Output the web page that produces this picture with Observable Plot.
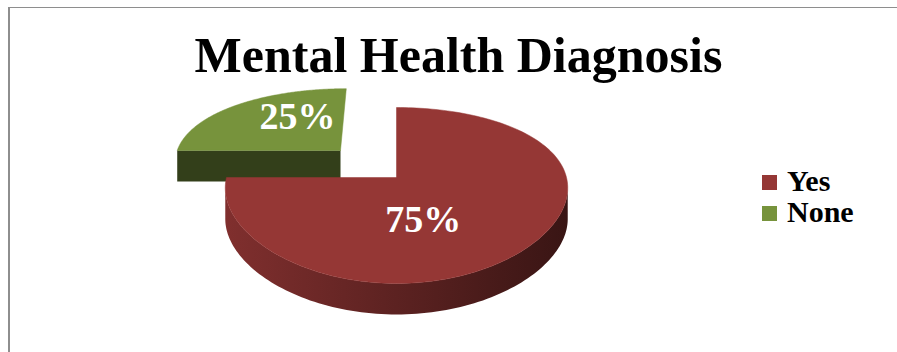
<!DOCTYPE html>
<html>
<head>
<meta charset="utf-8">
<script src="https://cdn.jsdelivr.net/npm/d3@7"></script>
<script src="https://cdn.jsdelivr.net/npm/@observablehq/plot@0.6"></script>
<style>
  html, body { margin: 0; padding: 0; background: #fff; }
  #wrap { position: relative; width: 897px; height: 352px; overflow: hidden;
          font-family: "Liberation Serif", "Times New Roman", serif; }
  #frame { position: absolute; left: 8px; top: 7px; width: 900px; height: 360px;
           border-top: 1px solid #8e8e8e; border-left: 2px solid #8e8e8e; box-sizing: border-box; }
  #chart { position: absolute; left: 0; top: 0; }
  #title { position: absolute; left: 0; width: 917px; top: 30px; text-align: center;
           font-size: 50px; font-weight: bold; line-height: 1; white-space: nowrap; color: #000; }
  .leg { position: absolute; left: 762px; font-size: 30px; font-weight: bold; line-height: 1; white-space: nowrap; }
  .leg .sw { position: absolute; left: 0; width: 15px; height: 15px; }
  .leg .tx { position: absolute; left: 25px; top: 0; }
</style>
</head>
<body>
<div id="wrap">
  <div id="frame"></div>
  <div id="chart"></div>
  <div id="title">Mental Health Diagnosis</div>
  <div id="legend"></div>
</div>
<script>
// ---- data ----
const categories = ["Yes", "None"];
const values = [75, 25];
const colors = ["#953735", "#77933C"];
const labels = ["75%", "25%"];

// ---- 3D pie geometry (perspective view of a tilted disk) ----
const KX = 0.12, KY = 0.2046;      // perspective strength
const DEPTH = 0.368;               // wall height in y units
const EXPLODE = [0, 0.485];        // slice explosion
const LABEL_R = 0.4;
const NUDGE = [[-23, 17], [0, -14]];
const proj = (u, v) => [u / (1 - KX * v), v / (1 - KY * v)];

const arcs = d3.pie().sort(null)(values);
const slices = arcs.map((a, i) => {
  const mid = (a.startAngle + a.endAngle) / 2;
  const cu = EXPLODE[i] * Math.sin(mid), cv = -EXPLODE[i] * Math.cos(mid);
  const n = 180;
  const arc = d3.range(n + 1).map(j => {
    const phi = a.startAngle + (a.endAngle - a.startAngle) * j / n;
    const u = cu + Math.sin(phi), v = cv - Math.cos(phi);
    const [x, y] = proj(u, v);
    return {x, y, phi};
  });
  const [cx, cy] = proj(cu, cv);
  const key = categories[i];
  const top = [{x: cx, y: cy}, ...arc, {x: cx, y: cy}].map(p => ({x: p.x, y: p.y, key}));
  // front-facing part of the outer wall
  const vis = arc.filter(p => -Math.cos(p.phi) >= KX);
  const wall = vis.length > 1
    ? [...vis.map(p => ({x: p.x, y: p.y})), ...vis.slice().reverse().map(p => ({x: p.x, y: p.y + DEPTH}))]
    : [];
  // radial cut faces that face the viewer
  const cuts = [];
  const edge = (phi) => { const [x, y] = proj(cu + Math.sin(phi), cv - Math.cos(phi)); return {x, y}; };
  if (-Math.sin(a.startAngle) > 1e-6) {
    const e = edge(a.startAngle);
    cuts.push([{x: cx, y: cy}, e, {x: e.x, y: e.y + DEPTH}, {x: cx, y: cy + DEPTH}]);
  }
  if (Math.sin(a.endAngle) > 1e-6) {
    const e = edge(a.endAngle);
    cuts.push([{x: cx, y: cy}, e, {x: e.x, y: e.y + DEPTH}, {x: cx, y: cy + DEPTH}]);
  }
  const lu = cu + LABEL_R * Math.sin(mid), lv = cv - LABEL_R * Math.cos(mid);
  const [lx, ly] = proj(lu, lv);
  return {i, key, color: colors[i], label: labels[i], top, wall, cuts, cv, lx, ly,
          wx0: vis.length ? d3.min(vis, p => p.x) : 0, wx1: vis.length ? d3.max(vis, p => p.x) : 1};
});

const shade = (c, k) => { const r = d3.rgb(c); return d3.rgb(r.r * k, r.g * k, r.b * k).formatHex(); };

const order = slices.slice().sort((a, b) => a.cv - b.cv);
const marks = [];
for (const s of order) {
  if (s.wall.length) marks.push(Plot.line(s.wall, {x: "x", y: "y", fill: `url(#wall${s.i})`, stroke: "none"}));
  for (const c of s.cuts) marks.push(Plot.line(c, {x: "x", y: "y", fill: shade(s.color, 0.43), stroke: "none"}));
  marks.push(Plot.line(s.top, {x: "x", y: "y", fill: s.color, stroke: s.color, strokeWidth: 0.5}));
}
for (const s of slices) {
  marks.push(Plot.text([s], {x: "lx", y: "ly", text: "label", fill: "white", fontSize: 38, fontWeight: "bold",
    fontFamily: "Liberation Serif", dx: NUDGE[s.i][0], dy: NUDGE[s.i][1]}));
}

const plot = Plot.plot({
  width: 897, height: 352, margin: 0,
  style: {background: "transparent", fontFamily: "Liberation Serif"},
  x: {domain: [-1, 1], range: [226, 566], axis: null},
  y: {domain: [-1, 1], range: [177 - 84.3, 177 + 84.3], axis: null},
  marks
});

// gradients for outer walls
const xs = plot.scale("x");
const defs = d3.select(plot).insert("defs", ":first-child");
for (const s of slices) {
  const g = defs.append("linearGradient").attr("id", `wall${s.i}`).attr("gradientUnits", "userSpaceOnUse")
    .attr("x1", xs.apply(s.wx0)).attr("x2", xs.apply(s.wx1)).attr("y1", 0).attr("y2", 0);
  g.append("stop").attr("offset", 0).attr("stop-color", shade(s.color, 0.86));
  g.append("stop").attr("offset", 0.5).attr("stop-color", shade(s.color, 0.62));
  g.append("stop").attr("offset", 1).attr("stop-color", shade(s.color, 0.38));
}
document.getElementById("chart").appendChild(plot);

// legend
const legend = document.getElementById("legend");
categories.forEach((c, i) => {
  const item = document.createElement("div");
  item.className = "leg";
  item.style.top = (166 + 31 * i) + "px";
  item.innerHTML = `<span class="sw" style="background:${colors[i]};top:8.5px"></span><span class="tx">${c}</span>`;
  legend.appendChild(item);
});
</script>
</body>
</html>
